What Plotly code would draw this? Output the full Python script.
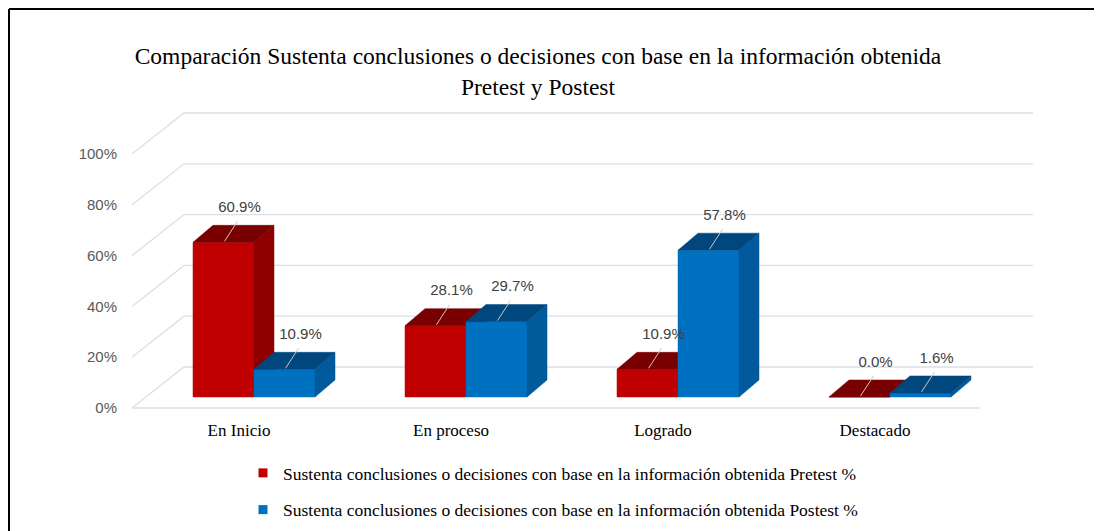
import plotly.graph_objects as go

# data
categories = ["En Inicio", "En proceso", "Logrado", "Destacado"]
pretest = [60.9, 28.1, 10.9, 0.0]
postest = [10.9, 29.7, 57.8, 1.6]
grid_values = [0, 20, 40, 60, 80, 100]
tick_labels = ["0%", "20%", "40%", "60%", "80%", "100%"]
series_names = [
    "Sustenta conclusiones o decisiones con base en la información obtenida Pretest %",
    "Sustenta conclusiones o decisiones con base en la información obtenida Postest %",
]
title_text = ("Comparación Sustenta conclusiones o decisiones con base en la información obtenida"
              "<br>Pretest y Postest")

# colours: front, top, side
red = ["#C00000", "#8E0000", "#780000"]
blue = ["#0070C0", "#005A9C", "#00477E"]
grid_color = "#DCDFE6"

# layout geometry (page pixels; the page body adds an 8px margin)
W, H = 1102, 531
OFF = 8
L, R, T, B = 123, 1040, 100, 418
PX_CAT = 212      # px per category
PX_PCT = 2.54     # px per percentage point
X0, Y0 = 254, 397  # pixel of first category centre / bar base


def ux(px):
    return px / PX_CAT


def uy(px):
    return px / PX_PCT


x_range = [ux(L - X0), ux(R - X0)]
y_range = [-uy(B - Y0), uy(Y0 - T)]

bar_w = ux(61)
depth_x, depth_y = ux(20), uy(17)
back_off, front_off = uy(30), -uy(11)
x_front_left, x_back_left = ux(132 - X0), ux(184 - X0)
x_front_right, x_back_right = ux(980 - X0), ux(1033 - X0)

fig = go.Figure()

# walls / gridlines
gx, gy = [], []
for g in grid_values:
    gx += [x_front_left, x_back_left, x_back_right, None]
    gy += [g + front_off, g + back_off, g + back_off, None]
gx += [x_front_left, x_front_right, None]
gy += [front_off, front_off, None]
fig.add_trace(go.Scatter(x=gx, y=gy, mode="lines", line=dict(color=grid_color, width=1.3),
                         hoverinfo="skip", showlegend=False))


def faces(values, offset):
    fx, fy, sx, sy, tx, ty = [], [], [], [], [], []
    for i, v in enumerate(values):
        a = i - bar_w + offset * bar_w
        b = a + bar_w
        fx += [a, b, b, a, a, None]
        fy += [0, 0, v, v, 0, None]
        sx += [b, b + depth_x, b + depth_x, b, b, None]
        sy += [0, depth_y, v + depth_y, v, 0, None]
        tx += [a, b, b + depth_x, a + depth_x, a, None]
        ty += [v, v, v + depth_y, v + depth_y, v, None]
    return (fx, fy), (sx, sy), (tx, ty)


for values, offset, cols in [(pretest, 0, red), (postest, 1, blue)]:
    for (xs, ys), col in zip(faces(values, offset), cols):
        fig.add_trace(go.Scatter(x=xs, y=ys, mode="lines", fill="toself", fillcolor=col,
                                 line=dict(color=col, width=0.5), hoverinfo="skip",
                                 showlegend=False))

# data labels with leader lines
lx, ly, lt, kx, ky = [], [], [], [], []
for values, offset in [(pretest, 0), (postest, 1)]:
    for i, v in enumerate(values):
        cx = i - bar_w + offset * bar_w + bar_w / 2
        lx.append(cx + ux(16))
        ly.append(v + uy(34))
        lt.append(f"{v:.1f}%")
        kx += [cx + ux(1), cx + ux(14), None]
        ky += [v + uy(1), v + uy(21), None]
fig.add_trace(go.Scatter(x=kx, y=ky, mode="lines", line=dict(color="#C8C8C8", width=1),
                         hoverinfo="skip", showlegend=False))
fig.add_trace(go.Scatter(x=lx, y=ly, mode="text", text=lt, textposition="middle center",
                         textfont=dict(family="Liberation Sans", size=15, color="#404040"),
                         hoverinfo="skip", showlegend=False))

# legend entries
for name, col, grp in [(series_names[0], red[0], "a"), (series_names[1], blue[0], "b")]:
    fig.add_trace(go.Scatter(x=[None], y=[None], mode="markers", name=name, legendgroup=grp,
                             marker=dict(symbol="square", size=9, color=col)))

frame = dict(type="line", xref="paper", yref="paper", line=dict(color="black", width=2))
px2x = lambda p: (p - (L - OFF)) / (R - L)
px2y = lambda p: ((B - OFF) - p) / (B - T)

fig.update_layout(
    width=W, height=H, autosize=False,
    margin=dict(l=L - OFF, r=W - (R - OFF), t=T - OFF, b=H - (B - OFF), pad=0,
                autoexpand=False),
    paper_bgcolor="white", plot_bgcolor="white",
    title=dict(text=title_text, xref="container", yref="container",
               x=530 / W, xanchor="center", y=1 - 56 / H, yanchor="top",
               font=dict(family="Liberation Serif", size=23.5, color="black")),
    xaxis=dict(range=x_range, tickvals=[i - ux(15) for i in range(len(categories))],
               ticktext=categories, tickangle=0, showgrid=False, zeroline=False,
               showline=False, ticks="", automargin=False,
               tickfont=dict(family="Liberation Serif", size=17, color="black")),
    yaxis=dict(range=y_range, tickvals=[g + front_off for g in grid_values],
               ticktext=tick_labels, showgrid=False, zeroline=False, showline=False,
               ticks="", automargin=False, ticklabelstandoff=5,
               tickfont=dict(family="Liberation Sans", size=15, color="#595959")),
    legend=dict(xref="container", yref="container", x=235 / W, y=1 - 447 / H,
                xanchor="left", yanchor="top", tracegroupgap=11,
                font=dict(family="Liberation Serif", size=17.5, color="black"),
                bgcolor="rgba(0,0,0,0)"),
    shapes=[
        dict(frame, x0=px2x(1), x1=px2x(W), y0=px2y(1), y1=px2y(1)),
        dict(frame, x0=px2x(1), x1=px2x(1), y0=px2y(1), y1=px2y(H)),
    ],
    showlegend=True,
)

fig.write_html("out.html")
